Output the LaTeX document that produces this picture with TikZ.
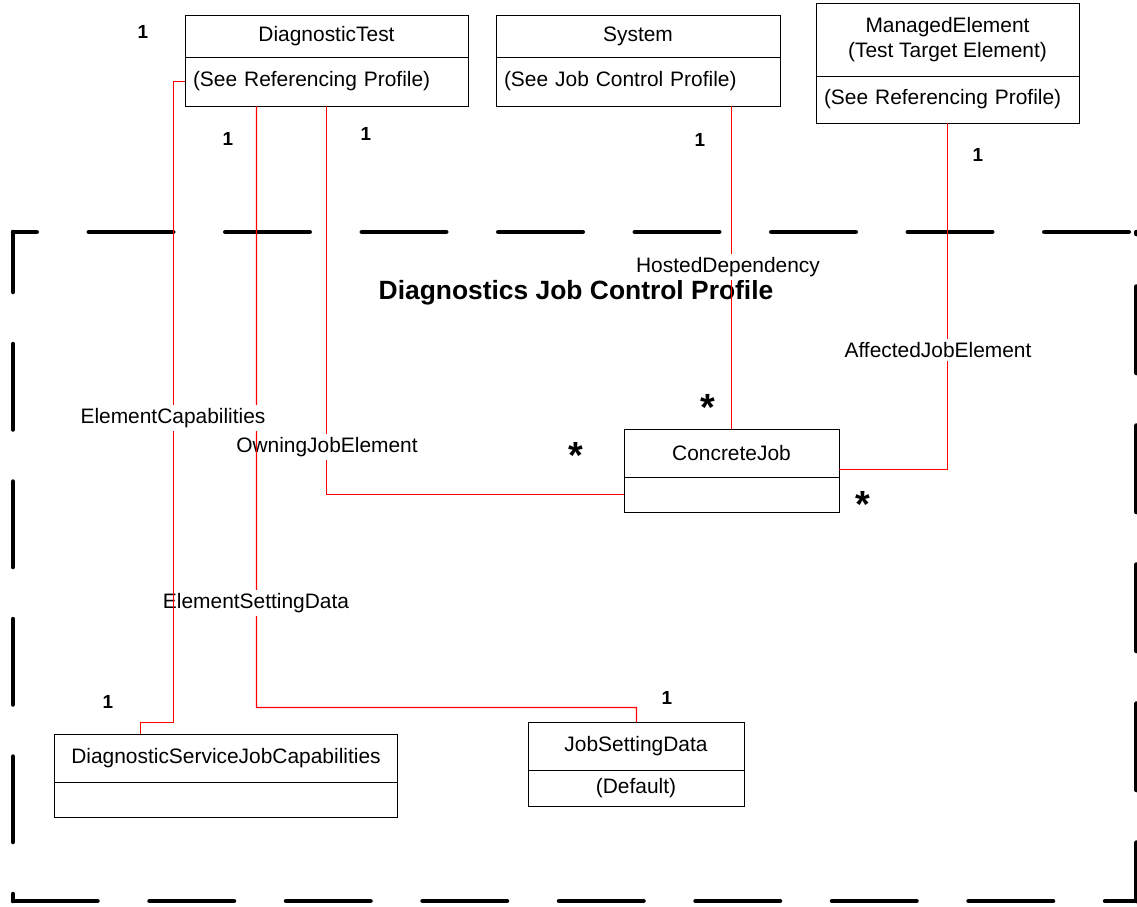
\documentclass[tikz,border=0pt]{standalone}
\usepackage{fontspec}
\setmainfont{Liberation Sans}
\usetikzlibrary{positioning}
\newcommand{\umlfont}{\fontsize{21}{25}\selectfont}
\newcommand{\multfont}{\fontsize{19}{22}\selectfont\bfseries}
\newcommand{\starfont}{\fontsize{38}{40}\selectfont\bfseries}
\tikzset{
    class-name/.style = {draw=black, line width=1bp, rectangle, outer sep=0pt, inner sep=0pt, align=center, font=\umlfont},
    class-body/.style = {draw=black, line width=1bp, rectangle, outer sep=0pt, inner xsep=8bp, inner ysep=0pt, align=left, font=\umlfont},
    assoc/.style = {draw=red, line width=1.2bp},
    assoc-label/.style = {fill=white, inner sep=3bp, font=\umlfont},
    mult/.style = {inner sep=0pt, font=\multfont},
    star/.style = {inner sep=0pt, font=\starfont},
    border/.style = {line width=4.5bp, line cap=round, dash pattern=on 84.5bp off 52bp},
    profile-title/.style = {font=\fontsize{26.5}{30}\selectfont\bfseries},
}

\begin{document}
\begin{tikzpicture}[x=1bp, y=-1bp]
\useasboundingbox (0,0) rectangle (1137,907);

% profile boundary
\draw[border, dash phase=60.75bp] (13,232) -- (1136,232);
\draw[border, dash pattern=on 85.5bp off 52bp, dash phase=25.5bp] (13,232) -- (13,901);
\draw[border, dash pattern=on 86.5bp off 52.5bp, dash phase=84.5bp] (1136.5,232) -- (1136.5,901);
\draw[border] (13,901) -- (1136,901);
\node[profile-title] (title) at (576,293) {Diagnostics Job Control Profile};

% classes
\node[class-name, minimum width=283bp, minimum height=41bp] (test-name) at (326.5,36.5) {DiagnosticTest};
\node[class-body, text width=267bp, minimum height=49bp, below=0pt of test-name] (test-body) {(See Referencing Profile)};
\node[class-name, minimum width=284bp, minimum height=41bp] (system-name) at (638,36.5) {System};
\node[class-body, text width=268bp, minimum height=49bp, below=0pt of system-name] (system-body) {(See Job Control Profile)};
\node[class-name, minimum width=263bp, minimum height=72bp] (element-name) at (947.5,40) {ManagedElement\\(Test Target Element)};
\node[class-body, text width=247bp, minimum height=47bp, below=0pt of element-name] (element-body) {(See Referencing Profile)};
\node[class-name, minimum width=215bp, minimum height=48bp] (job-name) at (731.5,453) {ConcreteJob};
\node[class-body, text width=199bp, minimum height=35bp, below=0pt of job-name] (job-body) {};
\node[class-name, minimum width=342bp, minimum height=48bp] (caps-name) at (226,758) {DiagnosticServiceJobCapabilities};
\node[class-body, text width=326bp, minimum height=35bp, below=0pt of caps-name] (caps-body) {};
\node[class-name, minimum width=216bp, minimum height=48bp] (setting-name) at (636,746) {JobSettingData};
\node[class-body, align=center, text width=200bp, minimum height=36bp, below=0pt of setting-name] (setting-body) {(Default)};

% associations
\draw[assoc] (test-body.south) |- (job-body.west);
\node[assoc-label] (owning-label) at (327,447) {OwningJobElement};
\draw[assoc] ([xshift=-70bp]test-body.south) -- (256.5,707.5) -| ([xshift=108.5bp]setting-name.north west);
\node[assoc-label] (setting-label) at (256,603) {ElementSettingData};
\draw[assoc] (test-body.west) -| (173.5,722.5) -| ([xshift=85.5bp]caps-name.north west);
\node[assoc-label] (caps-label) at (173,418) {ElementCapabilities};
\draw[assoc] (job-name.north) -- (job-name.north |- system-body.south);
\node[assoc-label] (hosted-label) at (728,267) {HostedDependency};
\draw[assoc] (element-body.south) |- ([yshift=7.5bp]job-body.north east);
\node[assoc-label] (affected-label) at (938,350) {AffectedJobElement};

% multiplicities
\node[mult] (caps-mult-test) at (143,32) {1};
\node[mult] (setting-mult-test) at (228,139) {1};
\node[mult] (owning-mult-test) at (366,134) {1};
\node[mult] (hosted-mult-system) at (700,140) {1};
\node[mult] (affected-mult-element) at (978,155) {1};
\node[mult] (caps-mult-caps) at (108,702) {1};
\node[mult] (setting-mult-setting) at (667,698) {1};
\node[star] (hosted-mult-job) at (708,407) {*};
\node[star] (owning-mult-job) at (576,455) {*};
\node[star] (affected-mult-job) at (863,504) {*};
\end{tikzpicture}
\end{document}
